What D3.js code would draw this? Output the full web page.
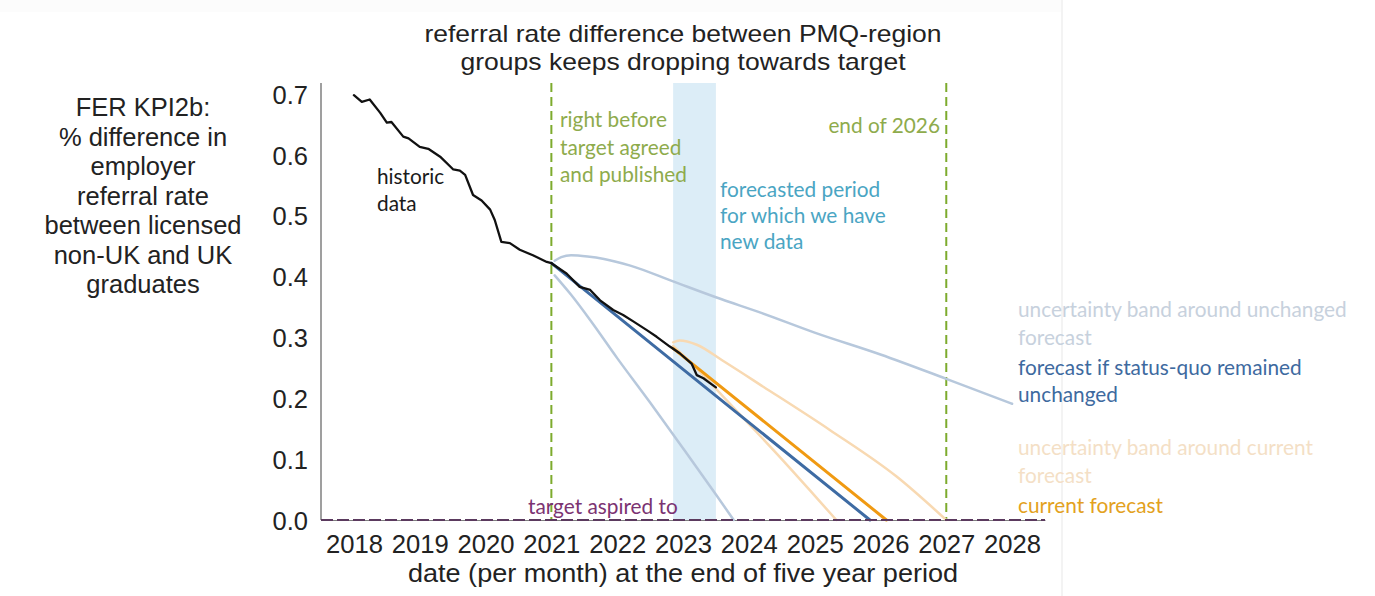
<!DOCTYPE html>
<html>
<head>
<meta charset="utf-8">
<script src="https://cdn.jsdelivr.net/npm/d3@7"></script>
<style>
  html, body { margin: 0; padding: 0; background: #ffffff; }
  svg { display: block; }
</style>
</head>
<body>
<svg id="chart" width="1375" height="596"></svg>
<script>
// ---- data (decimal year, KPI value) ----
const historicDates  = [2018.0, 2018.12, 2018.24, 2018.40, 2018.50, 2018.57, 2018.75, 2018.83, 2019.00, 2019.13, 2019.31, 2019.51, 2019.61, 2019.69, 2019.81, 2019.94, 2020.07, 2020.14, 2020.24, 2020.37, 2020.52, 2020.72, 2020.93, 2021.0];
const historicValues = [0.698, 0.687, 0.691, 0.669, 0.653, 0.654, 0.630, 0.627, 0.613, 0.610, 0.597, 0.576, 0.574, 0.567, 0.534, 0.525, 0.510, 0.493, 0.457, 0.455, 0.444, 0.435, 0.424, 0.422];

const newDates  = [2021.0, 2021.23, 2021.43, 2021.59, 2021.74, 2021.94, 2022.09, 2022.25, 2022.45, 2022.60, 2022.80, 2022.95, 2023.13, 2023.21, 2023.31, 2023.41, 2023.50];
const newValues = [0.422, 0.405, 0.383, 0.378, 0.361, 0.345, 0.337, 0.326, 0.312, 0.301, 0.285, 0.274, 0.257, 0.238, 0.233, 0.225, 0.218];

const statusQuoDates  = [2021.0, 2025.84];
const statusQuoValues = [0.422, 0.0];

const statusQuoUpperDates  = [2021.05, 2021.15, 2021.3, 2021.55, 2021.8, 2022.2, 2022.85, 2023.5, 2024.2, 2025.0, 2026.0, 2027.0, 2028.0];
const statusQuoUpperValues = [0.426, 0.432, 0.435, 0.433, 0.429, 0.418, 0.392, 0.366, 0.340, 0.308, 0.272, 0.232, 0.191];
const statusQuoLowerDates  = [2021.05, 2021.3, 2021.6, 2022.0, 2022.5, 2023.0, 2023.5, 2023.77];
const statusQuoLowerValues = [0.402, 0.370, 0.327, 0.266, 0.193, 0.118, 0.042, 0.0];

const currentDates  = [2022.85, 2026.09];
const currentValues = [0.282, 0.0];

const currentUpperDates  = [2022.85, 2022.95, 2023.21, 2023.6, 2024.22, 2025.23, 2026.25, 2027.0];
const currentUpperValues = [0.292, 0.295, 0.288, 0.262, 0.219, 0.148, 0.071, 0.0];
const currentLowerDates  = [2022.85, 2023.2, 2023.6, 2024.0, 2024.5, 2025.0, 2025.33];
const currentLowerValues = [0.286, 0.250, 0.204, 0.158, 0.100, 0.040, 0.0];

const targetValue = 0.0;
const targetAgreedYear = 2021.0;
const endOf2026Year = 2027.0;
const newDataPeriod = [2022.85, 2023.5];

const xTickYears  = [2018, 2019, 2020, 2021, 2022, 2023, 2024, 2025, 2026, 2027, 2028];
const xTickLabels = ["2018", "2019", "2020", "2021", "2022", "2023", "2024", "2025", "2026", "2027", "2028"];
const yTickValues = [0.0, 0.1, 0.2, 0.3, 0.4, 0.5, 0.6, 0.7];

const titleLines  = ["referral rate difference between PMQ-region", "groups keeps dropping towards target"];
const yTitleLines = ["FER KPI2b:", "% difference in", "employer", "referral rate", "between licensed", "non-UK and UK", "graduates"];
const xTitle = "date (per month) at the end of five year period";

// ---- layout ----
const svg = d3.select("#chart");
const W = 1375, H = 596;
const plot = { left: 321, right: 1045, top: 83, bottom: 520 };

const x = d3.scaleLinear().domain([2017.5, 2028.5]).range([plot.left, plot.right]);
const y = d3.scaleLinear().domain([0, 0.7]).range([plot.bottom, 94]);

const sans = "'Liberation Sans', Arial, sans-serif";
const hum  = "Lato, 'Open Sans', sans-serif";
const humSize = 20.8;

// panel behind the chart
svg.append("rect").attr("x", 0).attr("y", 0).attr("width", W).attr("height", H).attr("fill", "#ffffff");
svg.append("rect").attr("x", 0).attr("y", 0).attr("width", 1062).attr("height", 12).attr("fill", "#fcfcfc");
svg.append("line").attr("x1", 1062).attr("x2", 1062).attr("y1", 0).attr("y2", H)
  .attr("stroke", "#f3f3f3").attr("stroke-width", 2);

// period with new data
svg.append("rect")
  .attr("x", x(newDataPeriod[0])).attr("width", x(newDataPeriod[1]) - x(newDataPeriod[0]))
  .attr("y", plot.top).attr("height", plot.bottom - plot.top)
  .attr("fill", "#dcedf7");

// milestone markers
[targetAgreedYear, endOf2026Year].forEach(yr => {
  svg.append("line")
    .attr("x1", x(yr)).attr("x2", x(yr)).attr("y1", plot.top).attr("y2", plot.bottom)
    .attr("stroke", "#7dab2d").attr("stroke-width", 2).attr("stroke-dasharray", "9,5");
});

// axes
const yAxis = svg.append("g").attr("transform", `translate(${plot.left},0)`)
  .call(d3.axisLeft(y).tickValues(yTickValues).tickFormat(d3.format(".1f")).tickSize(0).tickPadding(13));
yAxis.select(".domain").attr("d", `M0,${plot.top}V${plot.bottom}`).attr("stroke", "#7f7f7f").attr("stroke-width", 1.5);
yAxis.selectAll("text").attr("font-family", sans).attr("font-size", 25.5).attr("fill", "#222").attr("dy", "0.36em");

const xAxis = svg.append("g").attr("transform", `translate(0,${plot.bottom})`)
  .call(d3.axisBottom(x).tickValues(xTickYears).tickFormat((d, i) => xTickLabels[i]).tickSize(0).tickPadding(14));
xAxis.select(".domain").attr("stroke", "#7f7f7f").attr("stroke-width", 1);
xAxis.selectAll("text").attr("font-family", sans).attr("font-size", 26.5).attr("fill", "#222")
  .attr("textLength", 57).attr("lengthAdjust", "spacingAndGlyphs");

// line helpers
const toPoints = (ds, vs) => ds.map((d, i) => [d, vs[i]]);
const straight = d3.line().x(d => x(d[0])).y(d => y(d[1]));
const smooth = d3.line().x(d => x(d[0])).y(d => y(d[1])).curve(d3.curveMonotoneX);

function drawLine(pts, gen, color, width) {
  svg.append("path").datum(pts).attr("d", gen)
    .attr("fill", "none").attr("stroke", color).attr("stroke-width", width)
    .attr("stroke-linecap", "round").attr("stroke-linejoin", "round");
}

// uncertainty bands
drawLine(toPoints(statusQuoUpperDates, statusQuoUpperValues), smooth, "#b7c8dc", 2.5);
drawLine(toPoints(statusQuoLowerDates, statusQuoLowerValues), smooth, "#b7c8dc", 2.5);
drawLine(toPoints(currentUpperDates, currentUpperValues), smooth, "#f8d9b2", 2.5);
drawLine(toPoints(currentLowerDates, currentLowerValues), smooth, "#f8d9b2", 2.5);

// forecasts
drawLine(toPoints(statusQuoDates, statusQuoValues), straight, "#3e6ba3", 3);
drawLine(toPoints(currentDates, currentValues), straight, "#f09a12", 3);

// observed data
drawLine(toPoints(historicDates, historicValues), straight, "#111111", 2.3);
drawLine(toPoints(newDates, newValues), straight, "#111111", 2.3);

// target
svg.append("line")
  .attr("x1", plot.left).attr("x2", plot.right).attr("y1", y(targetValue)).attr("y2", y(targetValue))
  .attr("stroke", "#5b3a5e").attr("stroke-width", 2).attr("stroke-dasharray", "12,4");

// text helper
function label(lines, xPos, yStart, step, opts) {
  const t = svg.append("text")
    .attr("font-family", opts.font || hum).attr("font-size", opts.size || humSize)
    .attr("fill", opts.color).attr("text-anchor", opts.anchor || "start");
  lines.forEach((ln, i) => {
    const s = t.append("tspan").attr("x", xPos).attr("y", yStart + i * step).text(ln);
    if (opts.lengths && opts.lengths[i]) s.attr("textLength", opts.lengths[i]).attr("lengthAdjust", "spacingAndGlyphs");
  });
  return t;
}

// titles
label(titleLines, 683, 42, 28, { font: sans, size: 24, color: "#222", anchor: "middle", lengths: [517, 445] });
label(yTitleLines, 143, 116, 29.5, { font: sans, size: 25.5, color: "#222", anchor: "middle" });
label([xTitle], 683, 582, 0, { font: sans, size: 26, color: "#222", anchor: "middle", lengths: [550] });

// annotations
label(["historic", "data"], 377, 184, 27, { color: "#1a1a1a" });
label(["right before", "target agreed", "and published"], 560, 127, 27.5, { color: "#8eab4c" });
label(["end of 2026"], 940, 133, 0, { color: "#8eab4c", anchor: "end" });
label(["forecasted period", "for which we have", "new data"], 720, 197, 26, { color: "#4aa5c3" });
label(["target aspired to"], 528, 514, 0, { color: "#7b3372" });

// legend
label(["uncertainty band around unchanged", "forecast"], 1018, 317, 27.5, { color: "#c7d1dd" });
label(["forecast if status-quo remained", "unchanged"], 1018, 375, 27, { color: "#3e6a9f" });
label(["uncertainty band around current", "forecast"], 1018, 455, 27.5, { color: "#f4dfc6" });
label(["current forecast"], 1018, 513, 0, { color: "#e3a120" });
</script>
</body>
</html>
